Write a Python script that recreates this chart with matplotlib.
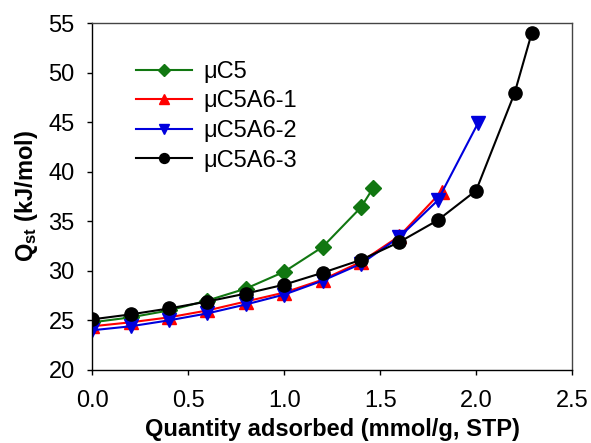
import numpy as np
import matplotlib
matplotlib.use("Agg")
import matplotlib.pyplot as plt

plt.rcParams['font.family'] = ['Liberation Sans', 'DejaVu Sans']
plt.rcParams['mathtext.fontset'] = 'custom'
plt.rcParams['mathtext.rm'] = 'Liberation Sans:bold'
plt.rcParams['mathtext.bf'] = 'Liberation Sans:bold'

x_c5 = [0.0, 0.2, 0.4, 0.6, 0.8, 1.0, 1.2, 1.4, 1.465]
q_c5 = [24.8, 25.3, 26.0, 27.0, 28.2, 29.9, 32.4, 36.4, 38.4]

x_a61 = [0.0, 0.2, 0.4, 0.6, 0.8, 1.0, 1.2, 1.4, 1.6, 1.82]
q_a61 = [24.4, 24.8, 25.3, 26.0, 26.9, 27.8, 29.1, 30.9, 33.5, 38.0]

x_a62 = [0.0, 0.2, 0.4, 0.6, 0.8, 1.0, 1.2, 1.4, 1.6, 1.8, 2.01]
q_a62 = [24.0, 24.4, 25.0, 25.7, 26.6, 27.6, 29.0, 30.7, 33.4, 37.1, 44.9]

x_a63 = [0.0, 0.2, 0.4, 0.6, 0.8, 1.0, 1.2, 1.4, 1.6, 1.8, 2.0, 2.2, 2.29]
q_a63 = [25.1, 25.6, 26.2, 26.9, 27.7, 28.6, 29.8, 31.1, 32.9, 35.1, 38.1, 47.9, 54.0]

labels = ['\u03bcC5', '\u03bcC5A6-1', '\u03bcC5A6-2', '\u03bcC5A6-3']

fig = plt.figure(figsize=(5.91, 4.43), dpi=100)
ax = fig.add_axes([0.156, 0.165, 0.812, 0.783])

ax.plot(x_c5, q_c5, color='#117711', marker='D', ms=8.5, lw=1.5, label=labels[0])
ax.plot(x_a61, q_a61, color='#ff0000', marker='^', ms=10, lw=1.5, label=labels[1])
ax.plot(x_a62, q_a62, color='#0000dd', marker='v', ms=10, lw=1.5, label=labels[2])
ax.plot(x_a63, q_a63, color='black', marker='o', ms=9.5, lw=1.5, label=labels[3])

ax.set_xlim(0, 2.5)
ax.set_ylim(20, 55)
ax.set_xticks(np.arange(0, 2.51, 0.5))
ax.set_yticks(np.arange(20, 56, 5))
ax.set_xticklabels([f'{v:.1f}' for v in np.arange(0, 2.51, 0.5)])
ax.tick_params(direction='out', length=3.6, width=1, labelsize=17, top=False, right=False)
ax.tick_params(axis='x', pad=11)
ax.tick_params(axis='y', pad=9)
for s in ax.spines.values():
    s.set_linewidth(1)
ax.spines['top'].set_color('#444444')
ax.spines['right'].set_color('#444444')

ax.set_xlabel('Quantity adsorbed (mmol/g, STP)', fontsize=17, fontweight='bold', labelpad=4)
ax.set_ylabel(r'$\mathregular{Q_{st}}$ (kJ/mol)', fontsize=17, fontweight='bold', labelpad=6)

ax.legend(loc='upper left', bbox_to_anchor=(0.072, 0.918), frameon=False, fontsize=17,
          handlelength=2.36, handletextpad=0.5, labelspacing=0.32, borderaxespad=0,
          markerscale=0.75)

fig.savefig('out.png', dpi=100)
